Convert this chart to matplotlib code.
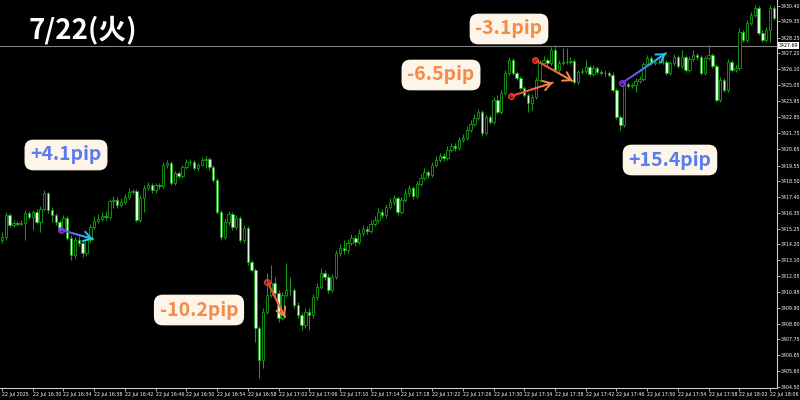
import numpy as np
import matplotlib
matplotlib.use('Agg')
import matplotlib.pyplot as plt
from matplotlib.collections import LineCollection
from matplotlib.colors import to_rgb

plt.rcParams['font.family'] = ['DejaVu Sans']

# 30s bars, 22 Jul 2025 16:26 -> 18:07
first_open = 3414.49
closes = [
    3414.69, 3416.19, 3415.51, 3415.65, 3415.58, 3415.65, 3416.33, 3416.05, 3416.39, 3415.71,
    3416.60, 3417.69, 3416.53, 3416.19, 3415.71, 3415.17, 3415.99, 3414.63, 3413.47, 3414.49,
    3414.29, 3413.61, 3414.49, 3415.37, 3415.78, 3415.92, 3416.12, 3416.05, 3417.14, 3417.21,
    3416.87, 3417.07, 3417.41, 3417.75, 3417.82, 3415.85, 3417.35, 3418.03, 3418.23, 3417.89,
    3418.23, 3418.16, 3419.59, 3419.73, 3418.37, 3419.05, 3418.84, 3419.45, 3419.79, 3419.79,
    3419.39, 3419.59, 3419.93, 3420.00, 3419.45, 3418.57, 3416.39, 3414.69, 3415.71, 3416.26,
    3415.37, 3415.99, 3414.49, 3415.31, 3412.99, 3412.45, 3408.51, 3406.33, 3409.59, 3410.75,
    3411.57, 3410.89, 3409.19, 3410.75, 3411.09, 3411.09, 3410.07, 3409.39, 3408.71, 3409.59,
    3409.39, 3410.61, 3411.29, 3412.25, 3411.97, 3411.09, 3411.97, 3413.61, 3413.95, 3413.81,
    3414.29, 3414.63, 3414.35, 3414.97, 3415.24, 3415.10, 3415.58, 3415.85, 3416.39, 3416.19,
    3416.73, 3417.07, 3417.35, 3416.39, 3417.21, 3417.69, 3418.03, 3417.48, 3418.30, 3418.71,
    3419.11, 3418.91, 3419.59, 3419.93, 3420.20, 3420.07, 3420.61, 3420.88, 3420.75, 3421.29,
    3421.43, 3421.97, 3422.38, 3422.79, 3423.19, 3421.77, 3422.85, 3422.51, 3424.01, 3423.19,
    3424.49, 3425.85, 3426.73, 3425.85, 3425.51, 3424.83, 3424.35, 3423.81, 3424.21, 3425.37,
    3426.53, 3426.73, 3426.53, 3427.41, 3426.05, 3426.53, 3426.59, 3426.59, 3426.66, 3425.23,
    3425.91, 3425.98, 3426.25, 3425.78, 3426.19, 3425.91, 3425.85, 3425.85, 3425.71, 3424.69,
    3422.85, 3422.31, 3425.10, 3424.96, 3425.03, 3425.30, 3425.44, 3426.46, 3426.87, 3426.53,
    3426.59, 3426.59, 3426.59, 3425.85, 3426.53, 3426.93, 3426.32, 3426.93, 3426.05, 3426.80,
    3427.07, 3426.93, 3425.85, 3426.87, 3427.07, 3426.32, 3424.01, 3425.37, 3424.69, 3426.59,
    3426.05, 3426.19, 3428.63, 3428.09, 3429.25, 3429.79, 3430.27, 3428.57, 3428.09, 3428.77,
    3430.27, 3429.59]
highs = [
    3415.03, 3416.39, 3416.33, 3415.85, 3415.78, 3415.85, 3416.53, 3416.46, 3416.53, 3416.60,
    3416.80, 3417.89, 3417.75, 3416.73, 3416.33, 3415.85, 3416.19, 3416.12, 3414.83, 3414.69,
    3414.76, 3414.49, 3414.63, 3415.58, 3416.12, 3416.26, 3416.39, 3416.46, 3417.28, 3417.48,
    3417.41, 3417.35, 3417.62, 3418.03, 3417.96, 3417.96, 3417.55, 3418.23, 3418.43, 3418.37,
    3418.37, 3418.37, 3419.79, 3419.93, 3419.86, 3419.18, 3419.18, 3419.59, 3420.00, 3420.00,
    3419.93, 3419.73, 3420.13, 3420.20, 3420.13, 3419.59, 3418.71, 3416.53, 3415.99, 3416.46,
    3416.39, 3416.19, 3416.12, 3415.51, 3415.44, 3413.13, 3412.59, 3408.64, 3409.87, 3412.25,
    3412.79, 3411.97, 3411.09, 3410.95, 3412.93, 3411.97, 3411.23, 3410.27, 3409.59, 3409.87,
    3409.87, 3410.82, 3411.57, 3412.59, 3412.45, 3412.18, 3412.18, 3413.81, 3414.22, 3414.49,
    3414.56, 3414.90, 3414.83, 3415.24, 3415.51, 3415.44, 3415.85, 3416.12, 3416.67, 3416.60,
    3416.94, 3417.35, 3417.55, 3417.48, 3417.41, 3417.96, 3418.23, 3418.16, 3418.50, 3418.98,
    3419.39, 3419.25, 3419.79, 3420.20, 3420.41, 3420.41, 3420.88, 3421.09, 3421.09, 3421.49,
    3421.70, 3422.24, 3422.65, 3423.06, 3423.40, 3423.33, 3423.06, 3422.99, 3424.21, 3424.35,
    3424.69, 3426.05, 3426.93, 3426.87, 3425.98, 3425.64, 3424.96, 3424.49, 3424.42, 3425.57,
    3426.73, 3427.00, 3426.87, 3427.61, 3427.75, 3426.73, 3427.55, 3427.55, 3426.93, 3426.80,
    3426.05, 3426.19, 3426.73, 3426.39, 3426.39, 3426.32, 3426.05, 3426.05, 3425.98, 3425.91,
    3424.83, 3422.99, 3425.23, 3425.23, 3425.17, 3425.51, 3425.64, 3426.59, 3427.07, 3427.00,
    3426.80, 3426.80, 3426.93, 3426.73, 3426.66, 3427.14, 3427.07, 3427.41, 3427.07, 3427.00,
    3427.41, 3427.21, 3427.07, 3427.00, 3427.75, 3427.21, 3426.46, 3425.57, 3425.51, 3426.80,
    3426.73, 3426.39, 3428.91, 3428.77, 3429.45, 3429.99, 3430.47, 3430.40, 3428.77, 3428.97,
    3430.47, 3430.40]
lows = [
    3414.29, 3414.49, 3415.37, 3415.37, 3415.44, 3415.51, 3414.49, 3415.92, 3415.17, 3415.58,
    3415.03, 3416.46, 3416.33, 3415.71, 3415.51, 3414.97, 3415.03, 3414.49, 3413.13, 3413.27,
    3414.08, 3413.33, 3413.40, 3414.29, 3415.24, 3415.65, 3415.78, 3415.85, 3415.92, 3416.67,
    3416.67, 3416.73, 3416.94, 3417.28, 3417.62, 3415.71, 3415.71, 3416.39, 3417.89, 3417.69,
    3417.69, 3417.96, 3418.03, 3419.39, 3418.23, 3418.23, 3418.71, 3418.71, 3419.32, 3419.59,
    3419.25, 3419.18, 3419.52, 3419.39, 3419.25, 3418.43, 3416.26, 3414.49, 3414.56, 3415.51,
    3415.17, 3415.24, 3414.35, 3414.29, 3412.79, 3412.31, 3407.55, 3405.11, 3405.79, 3409.46,
    3410.61, 3410.68, 3408.91, 3409.05, 3410.61, 3410.75, 3409.87, 3409.19, 3408.37, 3408.51,
    3408.37, 3409.19, 3410.41, 3411.16, 3411.77, 3410.89, 3410.95, 3411.84, 3413.40, 3413.54,
    3413.61, 3414.15, 3414.08, 3414.22, 3414.76, 3414.90, 3414.97, 3415.44, 3415.65, 3415.99,
    3415.99, 3416.60, 3416.87, 3416.19, 3416.26, 3417.07, 3417.48, 3417.28, 3417.35, 3418.16,
    3418.57, 3418.71, 3418.77, 3419.45, 3419.79, 3419.86, 3419.93, 3420.47, 3420.54, 3420.61,
    3421.15, 3421.29, 3421.83, 3422.24, 3422.65, 3421.56, 3421.63, 3422.38, 3422.38, 3423.06,
    3423.06, 3424.35, 3425.71, 3425.71, 3425.37, 3424.69, 3424.21, 3423.19, 3423.33, 3424.08,
    3425.23, 3426.39, 3426.32, 3426.39, 3425.91, 3425.85, 3426.39, 3426.46, 3426.46, 3425.10,
    3425.10, 3425.78, 3425.85, 3425.64, 3425.64, 3425.78, 3425.71, 3425.64, 3425.57, 3424.55,
    3422.72, 3421.97, 3422.17, 3424.83, 3424.83, 3424.55, 3425.17, 3425.30, 3426.32, 3426.39,
    3426.39, 3426.46, 3426.46, 3425.71, 3425.71, 3426.39, 3426.19, 3426.19, 3425.91, 3425.91,
    3426.66, 3426.73, 3425.71, 3425.71, 3426.73, 3426.19, 3423.87, 3423.87, 3424.55, 3424.55,
    3425.91, 3425.91, 3426.05, 3427.95, 3427.95, 3429.11, 3429.65, 3428.43, 3427.95, 3427.95,
    3427.95, 3429.45]

time_labels = ['22 Jul 2025', '22 Jul 16:30', '22 Jul 16:34', '22 Jul 16:38', '22 Jul 16:42',
               '22 Jul 16:46', '22 Jul 16:50', '22 Jul 16:54', '22 Jul 16:58', '22 Jul 17:02',
               '22 Jul 17:06', '22 Jul 17:10', '22 Jul 17:14', '22 Jul 17:18', '22 Jul 17:22',
               '22 Jul 17:26', '22 Jul 17:30', '22 Jul 17:34', '22 Jul 17:38', '22 Jul 17:42',
               '22 Jul 17:46', '22 Jul 17:50', '22 Jul 17:54', '22 Jul 17:58', '22 Jul 18:02',
               '22 Jul 18:06']
bars_per_label = 8
price_ticks = [3404.50, 3405.60, 3406.65, 3407.75, 3408.80, 3409.90, 3410.95, 3412.05,
               3413.10, 3414.20, 3415.25, 3416.35, 3417.40, 3418.50, 3419.55, 3420.65,
               3421.75, 3422.85, 3423.95, 3425.05, 3426.10, 3427.20, 3428.25, 3429.35,
               3430.40]
last_price = 3427.69

# arrows drawn on the chart: (start bar, start price), (end bar, end price), colours
arrow_starts = [(15.4, 3415.17), (69.1, 3411.65), (132.6, 3424.28), (138.8, 3426.73), (161.4, 3425.15)]
arrow_ends = [(23.7, 3414.56), (73.7, 3409.25), (143.4, 3425.19), (148.6, 3425.30), (172.9, 3427.19)]
arrow_colors = [('#7a30e0', '#1ec8f2'), ('#ee3a2e', '#f5884a'), ('#ee3a2e', '#f5884a'),
                ('#ee3a2e', '#f5884a'), ('#7a30e0', '#1ec8f2')]

# pip labels: text, colour, centre in pixels (x from left, y from top)
pip_texts = ['+4.1pip', '-10.2pip', '-6.5pip', '-3.1pip', '+15.4pip']
pip_colors = ['#5b7bf2', '#f68a48', '#f68a48', '#f68a48', '#5b7bf2']
pip_centers = [(66, 155), (199, 310), (441, 75), (509, 29), (670, 160)]

W, H = 800, 400
fig = plt.figure(figsize=(8, 4), dpi=100, facecolor='black')
ax = fig.add_axes([0, 12 / H, 777 / W, 388 / H], facecolor='black')

wick_col = '#12a012'
bear_col = '#dcfcdc'

c = np.array(closes)
o = np.array([first_open] + closes[:-1])
idx = np.arange(len(c))
up = c >= o

ax.vlines(idx, lows, highs, color=wick_col, lw=0.75, zorder=2)
body_lo = np.minimum(o, c)
body_h = np.maximum(np.abs(c - o), 0.03)
ax.bar(idx, body_h, bottom=body_lo, width=0.62,
       color=np.where(up, 'black', bear_col), edgecolor=wick_col, linewidth=0.6, zorder=3)

ax.set_xlim(-0.52, 201.8)
ax.set_ylim(3404.43, 3430.81)

# current price line + tag
ax.axhline(last_price, color='#808080', lw=0.8, zorder=1)
ax.text(1.002, last_price, f'{last_price:.2f}', transform=ax.get_yaxis_transform(),
        fontsize=3.4, color='black', va='center', ha='left', clip_on=False,
        bbox=dict(boxstyle='square,pad=0.2', fc='white', ec='none'))

# axes styling, MT4 look
for s in ['top', 'left']:
    ax.spines[s].set_visible(False)
for s in ['right', 'bottom']:
    ax.spines[s].set_color('#c8c8c8')
    ax.spines[s].set_linewidth(0.8)
ax.yaxis.tick_right()
ax.set_yticks(price_ticks)
ax.set_yticklabels([f'{p:.2f}' for p in price_ticks])
ax.set_xticks(np.arange(len(time_labels)) * bars_per_label)
ax.set_xticklabels(time_labels)
for lab in ax.get_xticklabels():
    lab.set_ha('left')
ax.tick_params(axis='y', length=2, width=0.6, colors='#c8c8c8', labelcolor='white',
               labelsize=3.4, pad=1)
ax.tick_params(axis='x', length=2, width=0.6, colors='#c8c8c8', labelcolor='white',
               labelsize=3.4, pad=1)


def blend(c0, c1, t):
    a, b = np.array(to_rgb(c0)), np.array(to_rgb(c1))
    return tuple(a + (b - a) * t)


for p0, p1, (c0, c1) in zip(arrow_starts, arrow_ends, arrow_colors):
    t = np.linspace(0, 1, 30)
    xs = p0[0] + (p1[0] - p0[0]) * t
    ys = p0[1] + (p1[1] - p0[1]) * t
    pts = np.column_stack([xs, ys]).reshape(-1, 1, 2)
    segs = np.concatenate([pts[:-1], pts[1:]], axis=1)
    cols = [blend(c0, c1, tt) for tt in t[:-1]]
    ax.add_collection(LineCollection(segs, colors=cols, linewidths=1.4, zorder=5,
                                     capstyle='round'))
    ax.annotate('', xy=p1, xytext=(xs[-3], ys[-3]),
                arrowprops=dict(arrowstyle='->,head_length=0.55,head_width=0.35',
                                color=c1, lw=1.4, shrinkA=0, shrinkB=0), zorder=6)
    ax.plot(*p0, 'o', ms=3.8, mfc='none', mec=c0, mew=1.2, zorder=6)

jp = ['Noto Sans CJK JP', 'DejaVu Sans']
for txt, col, (px, py) in zip(pip_texts, pip_colors, pip_centers):
    fig.text(px / W, 1 - py / H, txt, color=col, fontsize=14, fontweight='bold',
             family=jp, ha='center', va='center', zorder=10,
             bbox=dict(boxstyle='round,pad=0.3,rounding_size=0.45', fc='#fdf6e8', ec='none'))

fig.text(83 / W, 1 - 30 / H, '7/22(火)', color='white', fontsize=20, fontweight='bold',
         family=jp, ha='center', va='center')

fig.savefig('out.png', dpi=100, facecolor='black')
